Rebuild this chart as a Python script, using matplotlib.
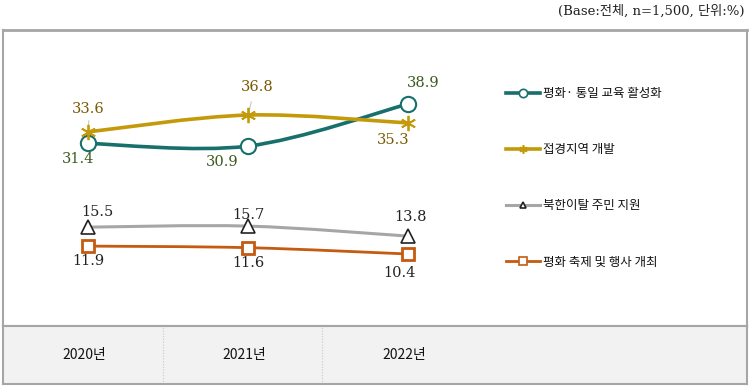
import matplotlib
matplotlib.use('Agg')
import matplotlib.pyplot as plt
from matplotlib.path import Path
from matplotlib.patches import PathPatch, Rectangle
from matplotlib.lines import Line2D
import matplotlib.transforms as mtransforms

# ---------------- data ----------------
years = ['2020년', '2021년', '2022년']
series_names = ['평화· 통일 교육 활성화', '접경지역 개발', '북한이탈 주민 지원', '평화 축제 및 행사 개최']
edu = [31.4, 30.9, 38.9]
border = [33.6, 36.8, 35.3]
defector = [15.5, 15.7, 13.8]
festival = [11.9, 11.6, 10.4]
note = '(Base:전체, n=1,500, 단위:%)'

# ---------------- layout ----------------
W, H = 750, 389
KR = ['Noto Sans CJK KR', 'DejaVu Sans']
NUM = ['DejaVu Serif', 'Noto Sans CJK KR']

fig = plt.figure(figsize=(W / 100, H / 100), dpi=100)

def fx(px):
    return px / W

def fy(py):
    return 1 - py / H

box_l, box_r, box_t, band_t, box_b = 3, 747, 30, 326, 384
ax = fig.add_axes([fx(box_l), fy(band_t), fx(box_r) - fx(box_l), fy(box_t) - fy(band_t)])
axb = fig.add_axes([fx(box_l), fy(box_b), fx(box_r) - fx(box_l), fy(band_t) - fy(box_b)])

# pixel scale of data
x0px, dxpx = 88, 160
yref_px, yref_v, ppu = 104, 38.9, 5.263
ax.set_xlim((box_l - x0px) / dxpx, (box_r - x0px) / dxpx)
ax.set_ylim(yref_v - (band_t - yref_px) / ppu, yref_v + (yref_px - box_t) / ppu)
axb.set_xlim(ax.get_xlim())
axb.set_ylim(0, 1)

for a in (ax, axb):
    a.set_xticks([])
    a.set_yticks([])
    for s in a.spines.values():
        s.set_color('#a6a6a6')
        s.set_linewidth(1.5)
axb.set_facecolor('#f2f2f2')
ax.spines['top'].set_linewidth(2)

xs = list(range(len(years)))


def smooth_path(xv, yv):
    n = len(xv)
    verts = [(xv[0], yv[0])]
    codes = [Path.MOVETO]
    for i in range(n - 1):
        p0 = i - 1 if i > 0 else i
        p3 = i + 2 if i + 2 < n else i + 1
        c1 = (xv[i] + (xv[i + 1] - xv[p0]) / 6, yv[i] + (yv[i + 1] - yv[p0]) / 6)
        c2 = (xv[i + 1] - (xv[p3] - xv[i]) / 6, yv[i + 1] - (yv[p3] - yv[i]) / 6)
        verts += [c1, c2, (xv[i + 1], yv[i + 1])]
        codes += [Path.CURVE4] * 3
    return Path(verts, codes)


styles = [
    dict(vals=edu, color='#17706b', lw=2.6, marker='o', ms=11, mfc='white', mec='#17706b', mew=1.5,
         tcol='#3b5a1c', offs=[(-10, -16), (-26, -16), (15, 21)], lms=6),
    dict(vals=border, color='#c49a0a', lw=2.6, marker=(6, 2, 0), ms=11, mfc='#c49a0a', mec='#c49a0a', mew=1.3,
         tcol='#7a5a00', offs=[(0, 23), (9, 28), (-15, -17)], lms=6),
    dict(vals=defector, color='#a6a6a6', lw=2.2, marker='^', ms=10, mfc='white', mec='#222222', mew=1.2,
         tcol='#222222', offs=[(9, 15), (0, 11), (3, 19)], lms=5),
    dict(vals=festival, color='#c55a11', lw=2.0, marker='s', ms=9, mfc='white', mec='#c55a11', mew=2.0,
         tcol='#222222', offs=[(0, -15), (0, -15), (-9, -19)], lms=6),
]

handles = []
for name, st in zip(series_names, styles):
    patch = PathPatch(smooth_path(xs, st['vals']), facecolor='none', edgecolor=st['color'],
                      lw=st['lw'], capstyle='butt', zorder=2)
    ax.add_patch(patch)
    ax.plot(xs, st['vals'], linestyle='none', marker=st['marker'], ms=st['ms'],
            mfc=st['mfc'], mec=st['mec'], mew=st['mew'], zorder=3)
    for x, v, (ox, oy) in zip(xs, st['vals'], st['offs']):
        ax.annotate(f'{v:.1f}', (x, v), xytext=(ox * 0.72, oy * 0.72), textcoords='offset points',
                    ha='center', va='center', fontsize=10.5, color=st['tcol'], family=NUM, zorder=4)
    handles.append(Line2D([], [], color=st['color'], lw=st['lw'], marker=st['marker'], ms=st['lms'],
                          mfc=st['mfc'] if st['mfc'] == 'white' else st['color'], mec=st['mec'],
                          mew=1.2, label=name))

# thin leader lines on gold labels
for x, v, (ox, oy) in zip(xs[:2], border[:2], [(1, 14), (4, 16)]):
    ax.annotate('', (x, v), xytext=(ox * 0.72, oy * 0.72), textcoords='offset points',
                arrowprops=dict(arrowstyle='-', color='#c8c8c8', lw=0.8), zorder=1)

leg = ax.legend(handles=handles, loc='upper left', bbox_to_anchor=(fx(495), fy(76)),
                bbox_transform=fig.transFigure, frameon=False, handlelength=2.7, handletextpad=0.25,
                labelspacing=3.45, prop={'family': KR, 'size': 9})
for t in leg.get_texts():
    t.set_color('#111111')

# bottom band: year labels & separators
for x, yr in zip(xs, years):
    axb.text(x - 0.025, 0.5, yr, ha='center', va='center', fontsize=10, family=KR, color='#111111')
for sep in (0.47, 1.46):
    axb.axvline(sep, color='#c8c8c8', lw=0.8, ls=(0, (1, 1.5)))

fig.text(fx(745), fy(11), note, ha='right', va='center', fontsize=9.5, family=NUM, color='#222222')

fig.savefig('out.png', dpi=100)
